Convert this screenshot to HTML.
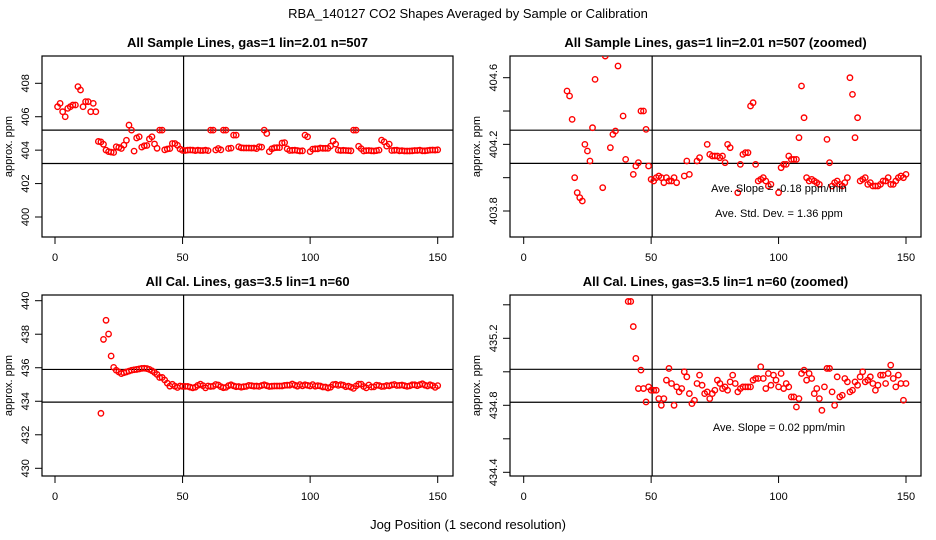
<!DOCTYPE html>
<html><head><meta charset="utf-8"><style>
html,body{margin:0;padding:0;background:#fff;width:936px;height:540px;overflow:hidden;}
svg{display:block;font-family:"Liberation Sans",sans-serif;}
</style></head><body>
<svg id="chart" width="936" height="540" viewBox="0 0 936 540">
<text x="468" y="18" font-size="13" text-anchor="middle">RBA_140127  CO2 Shapes Averaged by Sample or Calibration</text>
<text x="468" y="529" font-size="13" text-anchor="middle">Jog Position (1 second resolution)</text>
</svg>
<script>
// sample line averaged values, x positions 1..150
const sampleX = [];
for (let i = 1; i <= 150; i++) sampleX.push(i);
const sampleVals = [
406.6,406.8,406.3,406.0,406.5,406.6,406.7,406.7,407.8,407.6,
406.6,406.9,406.9,406.3,406.8,406.3,404.52,404.49,404.35,404.0,
403.91,403.88,403.86,404.2,404.16,404.1,404.3,404.59,405.5,405.2,
403.94,404.73,404.8,404.18,404.26,404.28,404.67,404.8,404.37,404.11,
405.2,405.2,404.02,404.07,404.09,404.4,404.4,404.29,404.07,403.99,
403.98,404.0,404.01,404.0,403.97,404.0,403.98,403.98,404.0,403.97,
405.2,405.2,404.01,404.1,404.02,405.2,405.2,404.1,404.12,404.9,
404.9,404.2,404.14,404.13,404.13,404.13,404.12,404.13,404.09,404.2,
404.18,405.2,405.0,403.91,404.08,404.14,404.15,404.15,404.43,404.45,
404.08,403.98,403.99,404.0,403.98,403.95,403.96,404.9,404.8,403.91,
404.06,404.08,404.08,404.13,404.11,404.11,404.11,404.24,404.55,404.36,
404.0,403.98,403.99,403.98,403.97,403.96,405.2,405.2,404.23,404.09,
403.95,403.97,403.98,403.96,403.95,403.97,404.0,404.6,404.5,404.24,
404.36,403.98,403.99,404.0,403.96,403.97,403.95,403.95,403.95,403.96,
403.98,403.98,404.0,403.96,403.96,403.98,404.0,404.01,404.0,404.02];
// calibration line averaged values, x positions 18..150
const calX = [];
for (let i = 18; i <= 150; i++) calX.push(i);
const calVals = [
433.28,437.69,438.83,438.01,436.7,436.02,435.85,435.75,435.65,435.7,
435.75,435.8,435.85,435.88,435.9,435.93,435.96,435.97,435.95,435.9,
435.82,435.72,435.6,435.42,435.42,435.27,435.08,434.9,435.01,434.9,
434.82,434.91,434.89,434.89,434.89,434.84,434.8,434.84,434.95,435.02,
434.93,434.8,434.91,434.88,434.9,435.0,434.97,434.87,434.81,434.83,
434.93,434.98,434.92,434.87,434.88,434.84,434.87,434.89,434.95,434.93,
434.9,434.91,434.89,434.94,434.98,434.93,434.88,434.9,434.91,434.91,
434.91,434.91,434.95,434.96,434.96,435.03,434.96,434.9,434.99,434.92,
434.98,434.95,434.91,434.99,434.9,434.93,434.91,434.85,434.85,434.79,
434.84,434.99,435.01,434.95,434.99,434.96,434.87,434.9,434.84,434.77,
434.91,435.02,435.02,434.88,434.8,434.97,434.85,434.86,434.96,434.94,
434.88,434.89,434.94,434.92,434.97,435.0,434.94,434.95,434.97,434.93,
434.89,434.92,434.98,434.98,434.93,434.99,435.04,434.96,434.91,434.98,
434.93,434.83,434.93];
const xTicks = [0,50,100,150];
const tlYTicks = [400,402,404,406,408];
const trYTicks = [403.8,404.0,404.2,404.4,404.6];
const trYLabels = ["403.8","","404.2","","404.6"];
const blYTicks = [430,432,434,436,438,440];
const brYTicks = [434.4,434.6,434.8,435.0,435.2,435.4];
const brYLabels = ["434.4","","434.8","","435.2",""];
const tlHLines = [405.2,403.2];
const trHLines = [404.285,404.086];
const blHLines = [435.9,433.95];
const brHLines = [435.015,434.818];
const vLineX = 50.4;

const NS = "http://www.w3.org/2000/svg";
const svg = document.getElementById('chart');
function mk(tag, attrs, parent) {
  const e = document.createElementNS(NS, tag);
  for (const k in attrs) e.setAttribute(k, attrs[k]);
  (parent || svg).appendChild(e);
  return e;
}

function panel(cfg) {
  const g = mk('g', {});
  
  
  const xs = v => cfg.x0 + (v - 0) * (cfg.x150 - cfg.x0) / 150;
  const ys = v => cfg.ya + (v - cfg.va) * (cfg.yb - cfg.ya) / (cfg.vb - cfg.va);
  const t = mk('text', {x: (cfg.L + cfg.R) / 2, y: cfg.T - 9, 'font-size': 13, 'font-weight': 'bold', 'text-anchor': 'middle'}, g);
  t.textContent = cfg.title;
  
  
  const cid = 'clip-' + cfg.name;
  const cp = mk('clipPath', {id: cid}, g);
  mk('rect', {x: cfg.L, y: cfg.T, width: cfg.R - cfg.L, height: cfg.B - cfg.T}, cp);
  xTicks.forEach(v => {
    const x = xs(v);
    mk('line', {x1: x, x2: x, y1: cfg.B, y2: cfg.B + 7, stroke: '#000', 'stroke-width': 1}, g);
    const tx = mk('text', {x: x, y: cfg.B + 24, 'font-size': 11, 'text-anchor': 'middle'}, g);
    tx.textContent = v;
    
    
  });
  cfg.yTicks.forEach((v, i) => {
    const y = ys(v);
    mk('line', {x1: cfg.L - 7, x2: cfg.L, y1: y, y2: y, stroke: '#000'}, g);
    const lab = cfg.yLabels ? cfg.yLabels[i] : String(v);
    if (lab) {
      const ty = mk('text', {x: 0, y: 0, 'font-size': 11, 'text-anchor': 'middle', transform: 'translate(' + (cfg.L - 13) + ',' + y + ') rotate(-90)'}, g);
      ty.textContent = lab;
      
      
    }
  });
  const yl = mk('text', {x: 0, y: 0, 'font-size': 11, 'text-anchor': 'middle', transform: 'translate(' + (cfg.L - 30) + ',' + ((cfg.T + cfg.B) / 2) + ') rotate(-90)'}, g);
  yl.textContent = 'approx. ppm';
  
  
  const fr = mk('rect', {x: cfg.L, y: cfg.T, width: cfg.R - cfg.L, height: cfg.B - cfg.T, fill: 'none', stroke: '#000', 'stroke-width': 1.2}, g);
  
  
  cfg.hLines.forEach(v => {
    const l = mk('line', {x1: cfg.L, x2: cfg.R, y1: ys(v), y2: ys(v), stroke: '#000', 'stroke-width': 1.2}, g);
    
    
  });
  const vl = mk('line', {x1: xs(vLineX), x2: xs(vLineX), y1: cfg.T, y2: cfg.B, stroke: '#000', 'stroke-width': 1.2}, g);
  
  
  const pg = mk('g', {'clip-path': 'url(#' + cid + ')'}, g);
  cfg.xv.forEach((xv, i) => {
    const c = mk('circle', {cx: xs(xv), cy: ys(cfg.vals[i]), r: 2.7, fill: 'none', stroke: '#f00', 'stroke-width': 1.4}, pg);
    
    
  });
  (cfg.notes || []).forEach(n => {
    const tn = mk('text', {x: n[0], y: n[1], 'font-size': 11, 'text-anchor': 'middle'}, g);
    tn.textContent = n[2];
    
    
  });
}

panel({name: 'sample-panel', title: 'All Sample Lines, gas=1 lin=2.01 n=507', L: 42, R: 453, T: 56, B: 237,
  x0: 55, x150: 437.7, va: 408, ya: 83.3, vb: 400, yb: 217,
  yTicks: tlYTicks, hLines: tlHLines, xv: sampleX, vals: sampleVals});
panel({name: 'sample-zoomed-panel', title: 'All Sample Lines, gas=1 lin=2.01 n=507 (zoomed)', L: 510, R: 921, T: 56, B: 237,
  x0: 523.7, x150: 906, va: 404.6, ya: 77.7, vb: 403.8, yb: 211,
  yTicks: trYTicks, yLabels: trYLabels, hLines: trHLines, xv: sampleX, vals: sampleVals,
  notes: [[779, 192, 'Ave. Slope =  -0.18  ppm/min'], [779, 217, 'Ave. Std. Dev. =  1.36  ppm']]});
panel({name: 'cal-panel', title: 'All Cal. Lines, gas=3.5 lin=1 n=60', L: 42, R: 453, T: 295, B: 476,
  x0: 55, x150: 437.7, va: 440, ya: 300.7, vb: 430, yb: 468.3,
  yTicks: blYTicks, hLines: blHLines, xv: calX, vals: calVals});
panel({name: 'cal-zoomed-panel', title: 'All Cal. Lines, gas=3.5 lin=1 n=60 (zoomed)', L: 510, R: 921, T: 295, B: 476,
  x0: 523.7, x150: 906, va: 435.2, ya: 338.3, vb: 434.4, yb: 472.3,
  yTicks: brYTicks, yLabels: brYLabels, hLines: brHLines, xv: calX, vals: calVals,
  notes: [[779, 431, 'Ave. Slope =  0.02  ppm/min']]});
</script>
</body></html>
